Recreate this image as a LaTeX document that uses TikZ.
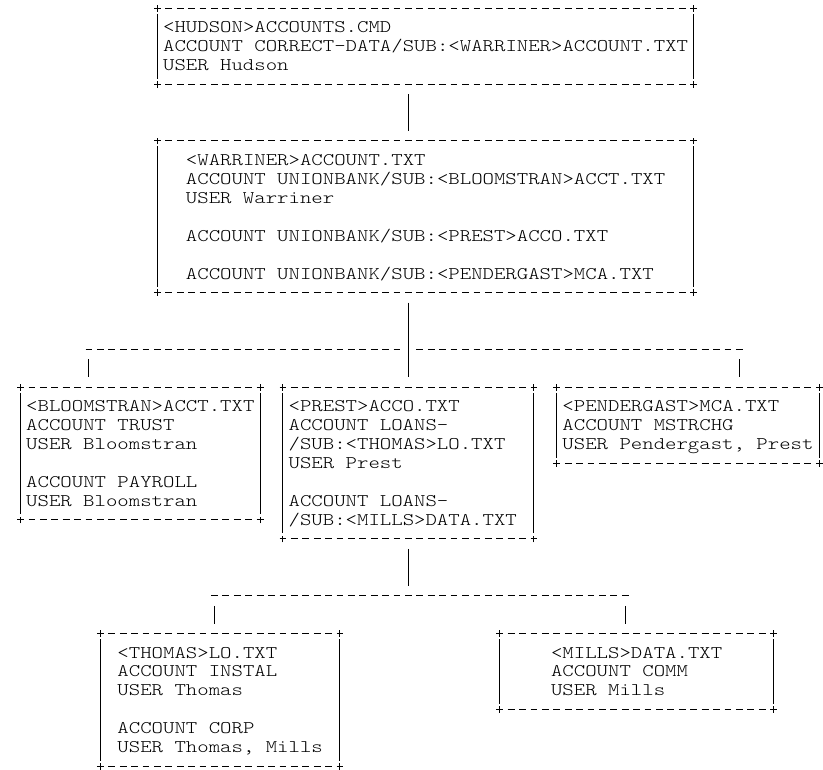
\documentclass[tikz,border=0pt]{standalone}
\usepackage{graphicx}
\usetikzlibrary{fit,calc}

% typewriter text, one row per 18.95pt, cells 11.41pt wide
\newcommand\boxfont{\fontsize{17.76}{18.95}\ttfamily\fontseries{l}\selectfont}
\newcommand\listing[1]{\scalebox{1.224}[1]{\boxfont\begin{tabular}[t]{@{}l@{}}#1\end{tabular}}}

\tikzset{
  rule/.style={line width=1pt, black},
  edge/.style={rule, dash pattern=on 6.8pt off 4.61pt},
  bar/.style={rule},
  frame/.style={inner sep=0pt, outer sep=0pt},
  codetext/.style={anchor=base west, inner sep=0pt, outer sep=0pt},
}

% ASCII style frame: dashed top and bottom, solid sides, plus signs at the corners
\newcommand\asciiframe[1]{%
  \draw[edge] ([xshift=8.01pt]#1.north west) -- ([xshift=-8.01pt]#1.north east);
  \draw[edge] ([xshift=8.01pt]#1.south west) -- ([xshift=-8.01pt]#1.south east);
  \draw[bar] ([yshift=-5.5pt]#1.north west) -- ([yshift=5.5pt]#1.south west);
  \draw[bar] ([yshift=-5.5pt]#1.north east) -- ([yshift=5.5pt]#1.south east);
  \foreach \k in {north west,north east,south west,south east}{
    \draw[bar] ([xshift=-3.4pt]#1.\k) -- ([xshift=3.4pt]#1.\k)
               ([yshift=-3.4pt]#1.\k) -- ([yshift=3.4pt]#1.\k);}%
}

\begin{document}
\begin{tikzpicture}[x=11.41pt, y=-18.95pt]
\path[fill=white, use as bounding box] (-1.7967,-0.438) rectangle (70.333,40.195);

% frames (column, row of opposite corners)
\node[frame, fit={(12,0) (59,4)}]   (hudsonbox)     {};
\node[frame, fit={(12,7) (59,15)}]  (warrinerbox)   {};
\node[frame, fit={(0,20) (21,27)}]  (bloomstranbox) {};
\node[frame, fit={(23,20) (45,28)}] (prestbox)      {};
\node[frame, fit={(47,20) (70,24)}] (pendergastbox) {};
\node[frame, fit={(7,33) (28,40)}]  (thomasbox)     {};
\node[frame, fit={(42,33) (66,37)}] (millsbox)      {};
\foreach \b in {hudsonbox,warrinerbox,bloomstranbox,prestbox,pendergastbox,thomasbox,millsbox}{\asciiframe{\b}}

% box contents
\node[codetext] (hudson) at (12.5,1.2865) {\listing{<HUDSON>ACCOUNTS.CMD\\ACCOUNT CORRECT-DATA/SUB:<WARRINER>ACCOUNT.TXT\\USER Hudson}};
\node[codetext] (warriner) at (14.5,8.2865) {\listing{<WARRINER>ACCOUNT.TXT\\ACCOUNT UNIONBANK/SUB:<BLOOMSTRAN>ACCT.TXT\\USER Warriner\\ \\ACCOUNT UNIONBANK/SUB:<PREST>ACCO.TXT\\ \\ACCOUNT UNIONBANK/SUB:<PENDERGAST>MCA.TXT}};
\node[codetext] (bloomstran) at (0.5,21.2865) {\listing{<BLOOMSTRAN>ACCT.TXT\\ACCOUNT TRUST\\USER Bloomstran\\ \\ACCOUNT PAYROLL\\USER Bloomstran}};
\node[codetext] (prest) at (23.5,21.2865) {\listing{<PREST>ACCO.TXT\\ACCOUNT LOANS-\\/SUB:<THOMAS>LO.TXT\\USER Prest\\ \\ACCOUNT LOANS-\\/SUB:<MILLS>DATA.TXT}};
\node[codetext] (pendergast) at (47.5,21.2865) {\listing{<PENDERGAST>MCA.TXT\\ACCOUNT MSTRCHG\\USER Pendergast, Prest}};
\node[codetext] (thomas) at (8.5,34.2865) {\listing{<THOMAS>LO.TXT\\ACCOUNT INSTAL\\USER Thomas\\ \\ACCOUNT CORP\\USER Thomas, Mills}};
\node[codetext] (mills) at (46.5,34.2865) {\listing{<MILLS>DATA.TXT\\ACCOUNT COMM\\USER Mills}};

% connector geometry
\coordinate (trunk) at (34,0);
\coordinate (busAw) at (6,18);
\coordinate (busAe) at (63,18);
\coordinate (busBw) at (17,31);
\coordinate (busBe) at (53,31);

% Hudson -> Warriner
\draw[bar] ($(hudsonbox.south -| trunk)+(0pt,-10pt)$) -- ($(warrinerbox.north -| trunk)+(0pt,10pt)$);

% Warriner -> Bloomstran, Prest, Pendergast
\draw[bar] ($(warrinerbox.south -| trunk)+(0pt,-10pt)$) -- ($(prestbox.north -| trunk)+(0pt,10pt)$);
\draw[edge] ($(busAw)+(-3.4pt,0pt)$) -- ($(trunk |- busAw)+(-8.01pt,0pt)$);
\draw[edge] ($(trunk |- busAw)+(8.01pt,0pt)$) -- ($(busAe)+(3.4pt,0pt)$);
\draw[bar] ($(busAw)+(0pt,-10pt)$) -- ($(bloomstranbox.north -| busAw)+(0pt,10pt)$);
\draw[bar] ($(busAe)+(0pt,-10pt)$) -- ($(pendergastbox.north -| busAe)+(0pt,10pt)$);

% Prest -> Thomas, Mills
\draw[bar] ($(prestbox.south -| trunk)+(0pt,-10pt)$) -- ($(trunk |- busBw)+(0pt,10pt)$);
\draw[edge] ($(busBw)+(-3.4pt,0pt)$) -- ($(busBe)+(3.4pt,0pt)$);
\draw[bar] ($(busBw)+(0pt,-10pt)$) -- ($(thomasbox.north -| busBw)+(0pt,10pt)$);
\draw[bar] ($(busBe)+(0pt,-10pt)$) -- ($(millsbox.north -| busBe)+(0pt,10pt)$);
\end{tikzpicture}
\end{document}
